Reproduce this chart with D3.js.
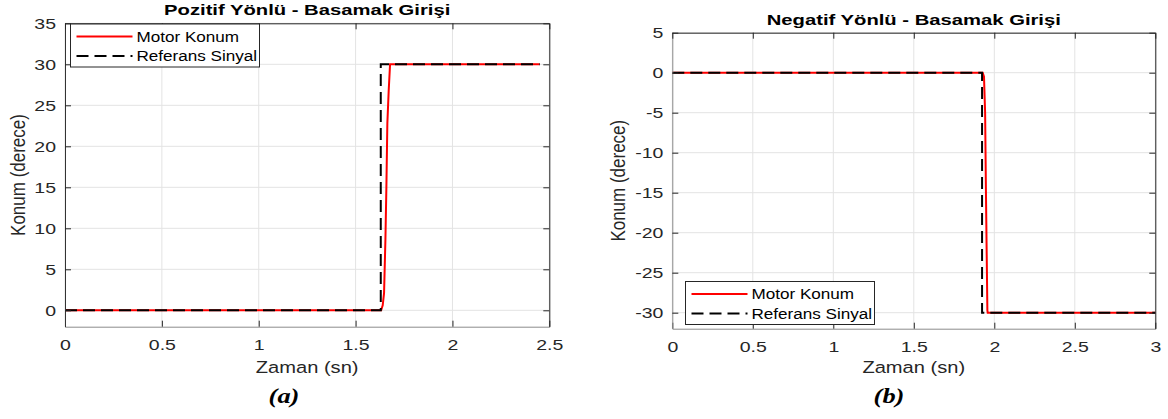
<!DOCTYPE html>
<html>
<head>
<meta charset="utf-8">
<script src="https://cdn.jsdelivr.net/npm/d3@7"></script>
<style>
  body { margin: 0; background: #fff; }
  svg { display: block; }
  text { font-family: "Liberation Sans", Arial, Helvetica, sans-serif; }
</style>
</head>
<body>
<svg id="fig" width="1168" height="419"></svg>
<script>
// ---- data ----
// (a) positive step
var posTime  = [0, 1.632, 1.640, 1.647, 1.654, 1.659, 1.664, 1.671, 1.678, 2.45];
var posMotor = [0, 0, 0.6, 2.1, 8.6, 15, 22.8, 26.8, 30, 30];
var posRefTime = [0, 1.63, 1.63, 2.45];
var posRef     = [0, 0, 30, 30];
var posXTicks = [0, 0.5, 1, 1.5, 2, 2.5];
var posYTicks = [0, 5, 10, 15, 20, 25, 30, 35];

// (b) negative step
var negTime  = [0, 1.928, 1.936, 1.943, 1.948, 1.957, 1.959, 3];
var negMotor = [0, 0, -0.5, -5, -14.7, -29.7, -30, -30];
var negRefTime = [0, 1.924, 1.924, 3];
var negRef     = [0, 0, -30, -30];
var negXTicks = [0, 0.5, 1, 1.5, 2, 2.5, 3];
var negYTicks = [-30, -25, -20, -15, -10, -5, 0, 5];

var legendNames = ["Motor Konum", "Referans Sinyal"];

var svg = d3.select("#fig");

// the original figure is stretched sideways, so text is widened a bit
function place(sel, x, y, sx) {
    sel.attr("transform", "translate(" + x + "," + y + ") scale(" + sx + ",1)");
    return sel;
}

function drawPanel(p) {
    var x = d3.scaleLinear().domain(p.xDomain).range([p.left, p.right]);
    var y = d3.scaleLinear().domain(p.yDomain).range([p.bottom, p.top]);
    var g = svg.append("g");

    // grid
    g.append("g").selectAll("line").data(p.xTicks).enter().append("line")
        .attr("x1", d => x(d)).attr("x2", d => x(d))
        .attr("y1", p.top).attr("y2", p.bottom)
        .attr("stroke", "#e3e3e3").attr("stroke-width", 1);
    g.append("g").selectAll("line").data(p.yTicks).enter().append("line")
        .attr("x1", p.left).attr("x2", p.right)
        .attr("y1", d => y(d)).attr("y2", d => y(d))
        .attr("stroke", "#e3e3e3").attr("stroke-width", 1);

    // series
    var line = d3.line().x(d => x(d[0])).y(d => y(d[1]));
    g.append("path")
        .datum(d3.zip(p.motorT, p.motorV))
        .attr("d", line).attr("fill", "none")
        .attr("stroke", "#ff0000").attr("stroke-width", 2);
    g.append("path")
        .datum(d3.zip(p.refT, p.refV))
        .attr("d", line).attr("fill", "none")
        .attr("stroke", "#000").attr("stroke-width", 2)
        .attr("stroke-dasharray", "12,6");

    // axes, ticks pointing inward; plain hyphen for negatives like MATLAB
    var fmt = d => String(d);
    var bottomAx = g.append("g").attr("transform", "translate(0," + p.bottom + ")")
        .call(d3.axisBottom(x).tickValues(p.xTicks).tickFormat(fmt)
            .tickSizeInner(-6).tickSizeOuter(0).tickPadding(12.5));
    var leftAx = g.append("g").attr("transform", "translate(" + p.left + ",0)")
        .call(d3.axisLeft(y).tickValues(p.yTicks).tickFormat(fmt)
            .tickSizeInner(-6).tickSizeOuter(0).tickPadding(9));
    var topAx = g.append("g").attr("transform", "translate(0," + p.top + ")")
        .call(d3.axisTop(x).tickValues(p.xTicks).tickFormat("")
            .tickSizeInner(-6).tickSizeOuter(0));
    var rightAx = g.append("g").attr("transform", "translate(" + p.right + ",0)")
        .call(d3.axisRight(y).tickValues(p.yTicks).tickFormat("")
            .tickSizeInner(-6).tickSizeOuter(0));

    [bottomAx, leftAx, topAx, rightAx].forEach(function (a) {
        a.selectAll("text").attr("fill", "#262626")
            .style("font-size", "15px")
            .style("font-family", '"Liberation Sans", Arial, sans-serif');
        a.selectAll(".tick line").attr("stroke", "#262626");
    });
    bottomAx.select(".domain").attr("stroke", "#8c8c8c");
    leftAx.select(".domain").attr("stroke", p.leftColor);
    topAx.select(".domain").attr("stroke", "#262626");
    rightAx.select(".domain").attr("stroke", "#262626");
    bottomAx.selectAll("text").attr("transform", "scale(1.3,1)");
    leftAx.selectAll("text").attr("x", -9 / 1.3).attr("transform", "scale(1.3,1)");

    var cx = (p.left + p.right) / 2;

    // title
    place(g.append("text"), cx, p.titleY, 1.35)
        .attr("text-anchor", "middle")
        .style("font-size", "15px").style("font-weight", "bold")
        .attr("fill", "#000").text(p.title);

    // x label
    place(g.append("text"), cx, 373, 1.22)
        .attr("text-anchor", "middle")
        .style("font-size", "16.5px").attr("fill", "#262626")
        .text("Zaman (sn)");

    // y label
    g.append("text")
        .attr("transform", "translate(" + p.yLabelX + "," + ((p.top + p.bottom) / 2) + ") rotate(-90) scale(1,1.22)")
        .attr("text-anchor", "middle")
        .style("font-size", "17px").attr("fill", "#262626")
        .text("Konum (derece)");

    // caption
    place(g.append("text"), p.captionX, 403, 1.2)
        .attr("text-anchor", "middle")
        .style("font-family", '"Liberation Serif", "Times New Roman", serif')
        .style("font-size", "22px").style("font-weight", "bold").style("font-style", "italic")
        .attr("fill", "#000").text(p.caption);

    // legend
    var lg = g.append("g").attr("transform", "translate(" + p.legX + "," + p.legY + ")");
    lg.append("rect").attr("width", 189).attr("height", 43)
        .attr("fill", "#fff").attr("stroke", "#262626").attr("stroke-width", 1);
    var styles = [{ c: "#ff0000", dash: null }, { c: "#000", dash: "12,6" }];
    legendNames.forEach(function (name, i) {
        var ry = 12.5 + i * 19.5;
        lg.append("line").attr("x1", 6).attr("x2", 62).attr("y1", ry).attr("y2", ry)
            .attr("stroke", styles[i].c).attr("stroke-width", 2)
            .attr("stroke-dasharray", styles[i].dash);
        place(lg.append("text"), 66, ry + 5, 1.18)
            .style("font-size", "14.5px").attr("fill", "#000").text(name);
    });
}

drawPanel({
    xDomain: [0, 2.5], yDomain: [-2, 35],
    left: 65, right: 549.3, top: 23.3, bottom: 326.7,
    xTicks: posXTicks, yTicks: posYTicks,
    motorT: posTime, motorV: posMotor, refT: posRefTime, refV: posRef,
    title: "Pozitif Yönlü - Basamak Girişi", titleY: 15,
    yLabelX: 25, captionX: 284, caption: "(a)",
    legX: 70.5, legY: 24, leftColor: "#333"
});

drawPanel({
    xDomain: [0, 3], yDomain: [-32, 5],
    left: 672.3, right: 1155.3, top: 32.7, bottom: 328.7,
    xTicks: negXTicks, yTicks: negYTicks,
    motorT: negTime, motorV: negMotor, refT: negRefTime, refV: negRef,
    title: "Negatif Yönlü - Basamak Girişi", titleY: 25,
    yLabelX: 625, captionX: 889, caption: "(b)",
    legX: 685.5, legY: 281.5, leftColor: "#8c8c8c"
});
</script>
</body>
</html>
